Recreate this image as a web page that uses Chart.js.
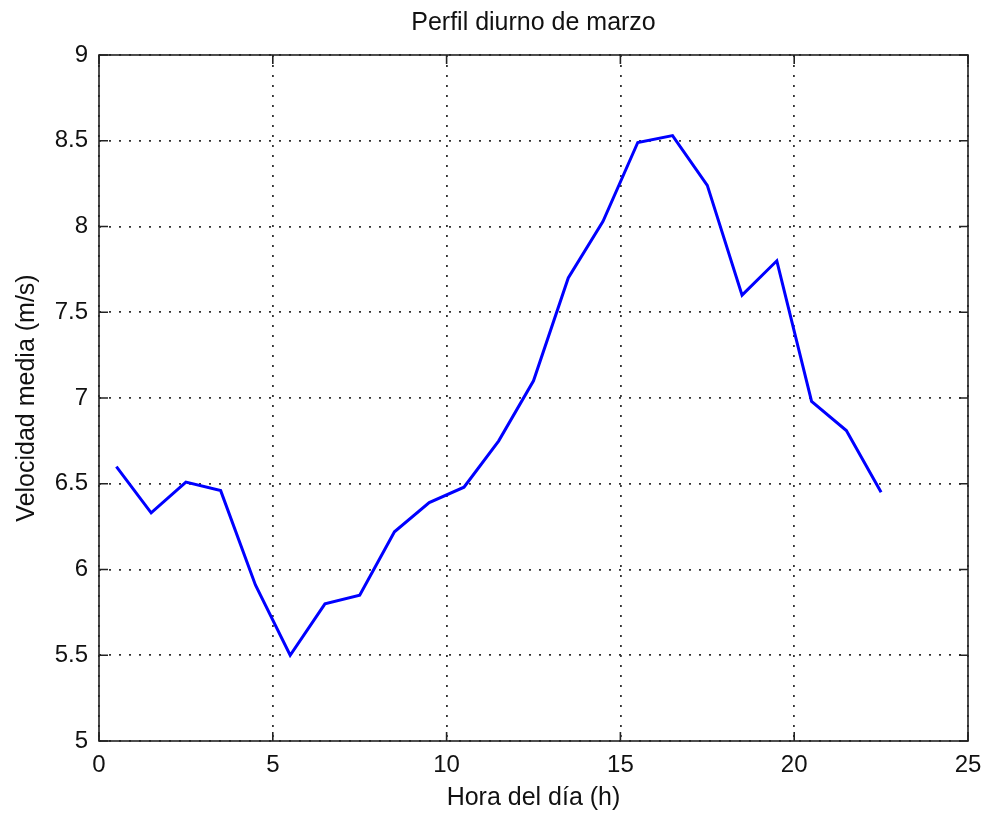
<!DOCTYPE html>
<html>
<head>
<meta charset="utf-8">
<title>Perfil diurno de marzo</title>
<script src="https://cdn.jsdelivr.net/npm/chart.js@4.4.1/dist/chart.umd.min.js"></script>
<style>
  html, body { margin: 0; padding: 0; background: #fff; }
  #wrap { width: 984px; height: 814px; }
</style>
</head>
<body>
<div id="wrap"><canvas id="perfil"></canvas></div>
<script>
// hourly mean wind speed, March
const hours = [0.5, 1.5, 2.5, 3.5, 4.5, 5.5, 6.5, 7.5, 8.5, 9.5, 10.5, 11.5,
               12.5, 13.5, 14.5, 15.5, 16.5, 17.5, 18.5, 19.5, 20.5, 21.5, 22.5];
const speed = [6.60, 6.33, 6.51, 6.46, 5.91, 5.50, 5.80, 5.85, 6.22, 6.39, 6.48, 6.75,
               7.10, 7.70, 8.03, 8.49, 8.53, 8.24, 7.60, 7.80, 6.98, 6.81, 6.45];

const xRange = [0, 25];
const xStep = 5;
const yRange = [5, 9];
const yStep = 0.5;

const titleText = 'Perfil diurno de marzo';
const xLabel = 'Hora del día (h)';
const yLabel = 'Velocidad media (m/s)';

const FONT = "'Liberation Sans', Arial, Helvetica, sans-serif";

// box around the axes plus matlab-style inward tick marks
const framePlugin = {
    id: 'frame',
    afterDraw(chart) {
        const { ctx, chartArea: a, scales } = chart;
        const len = 9;
        ctx.save();
        ctx.strokeStyle = '#222';
        ctx.lineWidth = 1.6;
        ctx.strokeRect(a.left, a.top, a.right - a.left, a.bottom - a.top);
        ctx.beginPath();
        scales.x.ticks.forEach(t => {
            const px = scales.x.getPixelForValue(t.value);
            ctx.moveTo(px, a.bottom); ctx.lineTo(px, a.bottom - len);
            ctx.moveTo(px, a.top); ctx.lineTo(px, a.top + len);
        });
        scales.y.ticks.forEach(t => {
            const py = scales.y.getPixelForValue(t.value);
            ctx.moveTo(a.left, py); ctx.lineTo(a.left + len, py);
            ctx.moveTo(a.right, py); ctx.lineTo(a.right - len, py);
        });
        ctx.stroke();
        ctx.restore();
    }
};

// dotted grid, no axis line (the frame plugin draws the box)
const dottedBorder = { display: false, dash: [2, 8] };
const dottedGrid = { color: '#333', lineWidth: 1.8, drawTicks: false };

const ctx = document.getElementById('perfil').getContext('2d');

new Chart(ctx, {
    type: 'line',
    data: {
        datasets: [{
            data: hours.map((h, i) => ({ x: h, y: speed[i] })),
            borderColor: '#0000ff',
            borderWidth: 3,
            radius: 0,
            tension: 0,
            fill: false,
        }]
    },
    options: {
        animation: false,
        responsive: true,
        maintainAspectRatio: false,
        layout: {
            padding: { left: 0, right: 16, top: 0, bottom: 0 },
        },
        plugins: {
            legend: { display: false },
            tooltip: { enabled: false },
            title: {
                display: true,
                fullSize: false,
                text: titleText,
                color: '#111',
                font: { family: FONT, size: 25, weight: 'normal', lineHeight: 1.2 },
                padding: { top: 8, bottom: 17 },
            },
        },
        scales: {
            x: {
                type: 'linear',
                min: xRange[0],
                max: xRange[1],
                afterFit: (scale) => {
                    scale.height = 73;
                    scale.paddingLeft = 0;
                    scale.paddingRight = 0;
                },
                border: dottedBorder,
                grid: dottedGrid,
                ticks: {
                    stepSize: xStep,
                    color: '#111',
                    padding: 10,
                    maxRotation: 0,
                    font: { family: FONT, size: 24 },
                },
                title: {
                    display: true,
                    text: xLabel,
                    color: '#111',
                    font: { family: FONT, size: 25, lineHeight: 1.2 },
                    padding: { top: 0, bottom: 1 },
                },
            },
            y: {
                min: yRange[0],
                max: yRange[1],
                afterFit: (scale) => { scale.width = 99; },
                border: dottedBorder,
                grid: dottedGrid,
                ticks: {
                    stepSize: yStep,
                    color: '#111',
                    padding: 11,
                    font: { family: FONT, size: 24 },
                    callback: (v) => String(v),
                },
                title: {
                    display: true,
                    text: yLabel,
                    color: '#111',
                    font: { family: FONT, size: 25, lineHeight: 1.2 },
                    padding: { top: 12, bottom: 0 },
                },
            },
        },
    },
    plugins: [framePlugin],
});
</script>
</body>
</html>
